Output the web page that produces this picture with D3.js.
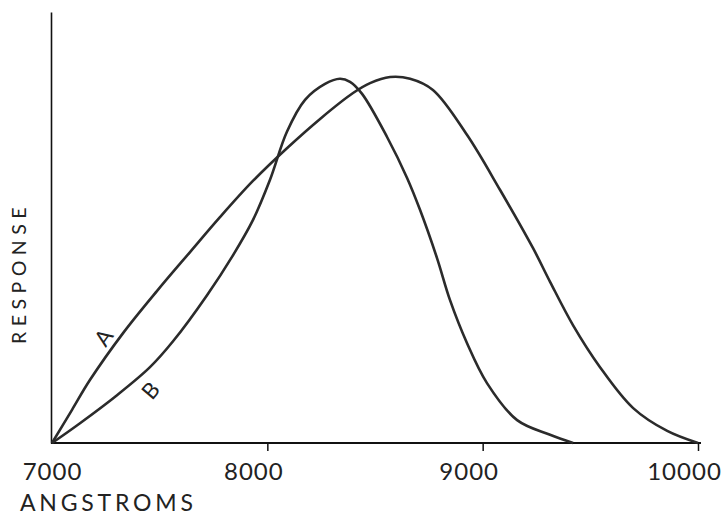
<!DOCTYPE html>
<html>
<head>
<meta charset="utf-8">
<script src="https://cdn.jsdelivr.net/npm/d3@7"></script>
<style>
  body { margin: 0; background: #fff; }
  svg text { font-family: Lato, "DejaVu Sans", sans-serif; fill: #222; }
</style>
</head>
<body>
<div class="canvas"></div>
<script>
const dims = { width: 723, height: 516 };
const margin = { left: 52, right: 25, top: 12, bottom: 73 };

// curve A, angstroms / relative response
const waveA = [7000, 7093, 7176, 7330, 7488, 7641, 7780, 7933, 8091, 8245, 8398, 8477, 8570, 8663, 8769, 8927, 9081, 9234, 9313, 9420, 9545, 9699, 9857, 10000];
const respA = [0, 7.7, 14.6, 25.5, 35.3, 44.3, 52.4, 60.8, 68.4, 75.2, 81.2, 83.5, 84.9, 84.5, 81.9, 71.5, 58.7, 45.2, 37.4, 27.3, 17.6, 8.1, 2.8, 0];

// curve B
const waveB = [7000, 7130, 7302, 7455, 7562, 7720, 7841, 7933, 8012, 8091, 8175, 8268, 8337, 8384, 8440, 8556, 8649, 8709, 8788, 8848, 8927, 9020, 9160, 9313, 9420];
const respB = [0, 4.6, 11.1, 17.6, 23.6, 34.3, 43.6, 51.7, 61.0, 72.2, 79.6, 83.3, 84.5, 83.8, 81.0, 71.0, 61.5, 54.1, 42.9, 33.2, 23.2, 13.9, 5.3, 1.9, 0];

const xTicks = [7000, 8000, 9000, 10000];

const svg = d3.select('.canvas')
  .append('svg')
  .attr('width', dims.width)
  .attr('height', dims.height)

const x = d3.scaleLinear()
  .domain([7000, 10000])
  .range([margin.left, dims.width - margin.right])

const y = d3.scaleLinear()
  .domain([0, 100])
  .range([dims.height - margin.bottom, margin.top])

// axes
const xAxis = d3.axisBottom(x)
  .tickValues(xTicks)
  .tickFormat(d3.format('d'))
  .tickSize(8)
  .tickSizeOuter(0)

const gx = svg.append('g')
  .attr('transform', `translate(0, ${y(0)})`)
  .call(xAxis)

gx.select('.domain')
  .attr('stroke', '#111')
  .attr('stroke-width', 2)
  .attr('d', `M${x(7000) - 1},0H${x(10000) + 3}`)

gx.selectAll('.tick line')
  .attr('stroke', '#111')
  .attr('stroke-width', 1.5)
  .attr('opacity', d => d === 7000 ? 0 : 1)

gx.selectAll('.tick text')
  .attr('y', 37)
  .attr('dx', d => d === 7000 ? 0 : -14)
  .attr('dy', 0)
  .attr('font-size', 24)
  .attr('letter-spacing', 1)
  .attr('fill', '#222')

const gy = svg.append('g')
  .attr('transform', `translate(${x(7000) - 1}, 0)`)
  .call(d3.axisLeft(y).tickValues([]).tickSizeOuter(0))

gy.select('.domain')
  .attr('stroke', '#111')
  .attr('stroke-width', 1.6)

// axis titles
svg.append('text')
  .attr('x', 20)
  .attr('y', 511)
  .attr('font-size', 23)
  .attr('letter-spacing', 3.8)
  .text('ANGSTROMS')

svg.append('text')
  .attr('transform', 'translate(26, 273) rotate(-90)')
  .attr('text-anchor', 'middle')
  .attr('font-size', 19.5)
  .attr('letter-spacing', 5.5)
  .text('RESPONSE')

// curves
const line = d3.line()
  .x(d => x(d[0]))
  .y(d => y(d[1]))
  .curve(d3.curveCatmullRom.alpha(0.5))

const curves = [
  { name: 'A', pts: d3.zip(waveA, respA), at: [7237, 24.6], rot: -55 },
  { name: 'B', pts: d3.zip(waveB, respB), at: [7455, 12.3], rot: -50 },
]

svg.selectAll('path.curve')
  .data(curves)
  .enter()
  .append('path')
  .attr('class', 'curve')
  .attr('d', d => line(d.pts))
  .attr('fill', 'none')
  .attr('stroke', '#2b2b2b')
  .attr('stroke-width', 2.6)
  .attr('stroke-linejoin', 'round')

svg.selectAll('text.lbl')
  .data(curves)
  .enter()
  .append('text')
  .attr('class', 'lbl')
  .attr('transform', d => `translate(${x(d.at[0])}, ${y(d.at[1])}) rotate(${d.rot})`)
  .attr('text-anchor', 'middle')
  .attr('dominant-baseline', 'central')
  .attr('font-size', 22)
  .text(d => d.name)
</script>
</body>
</html>
